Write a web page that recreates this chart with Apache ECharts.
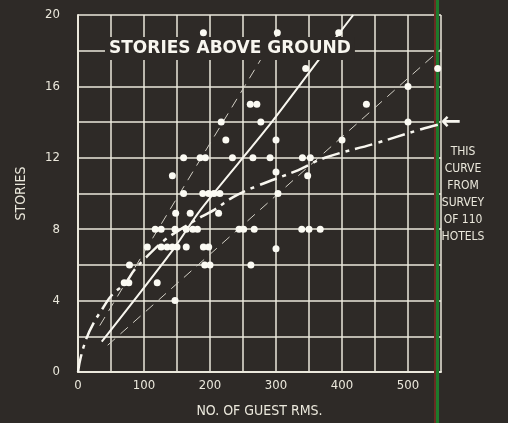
<!DOCTYPE html>
<html>
<head>
<meta charset="utf-8">
<script src="https://cdn.jsdelivr.net/npm/echarts@6/dist/echarts.min.js"></script>
<style>
  html, body { margin: 0; padding: 0; background: #2e2a27; }
  #chart { width: 508px; height: 423px; }
</style>
</head>
<body>
<div id="chart"></div>
<script>
// hotels: number of guest rooms vs stories above ground
const hotelRooms = [
  190, 302, 395,
  345, 545,
  500,
  261, 271, 437,
  217, 277, 500,
  224, 300, 400,
  160, 185, 193, 234, 265, 291, 340, 352,
  143, 300, 348,
  160, 189, 198, 206, 215, 303,
  148, 170, 213,
  117, 126, 147, 164, 174, 181, 244, 251, 267, 339, 350, 367,
  105, 126, 135, 143, 150, 164, 190, 198, 300,
  78, 192, 200, 262,
  70, 77, 120,
  147
]
const hotelStories = [
  19, 19, 19,
  17, 17,
  16,
  15, 15, 15,
  14, 14, 14,
  13, 13, 13,
  12, 12, 12, 12, 12, 12, 12, 12,
  11, 11.2, 11,
  10, 10, 10, 10, 10, 10,
  8.9, 8.9, 8.9,
  8, 8, 8, 8, 8, 8, 8, 8, 8, 8, 8, 8,
  7, 7, 7, 7, 7, 7, 7, 7, 6.9,
  6, 6, 6, 6,
  5, 5, 5,
  4
]

// survey curve (dash-dot)
const surveyRooms = [0, 4, 13, 23, 38, 51, 72, 85, 100, 130, 160, 187, 207, 235, 270, 333, 374, 450, 520, 550]
const surveyStories = [0, 0.8, 1.9, 2.7, 3.6, 4.3, 5.0, 5.7, 6.3, 7.35, 8.1, 8.7, 9.1, 9.8, 10.4, 11.3, 12.0, 12.8, 13.6, 13.9]

// solid curve
const solidRooms = [36, 143, 186, 285, 365, 417]
const solidStories = [1.7, 6.8, 9.1, 13.6, 17.5, 20]

// thin dashed limit lines
const lowerRooms = [45, 550]
const lowerStories = [1.5, 18.1]
const upperRooms = [33, 285]
const upperStories = [2.6, 18]

const noteLines = ['THIS', 'CURVE', 'FROM', 'SURVEY', 'OF 110', 'HOTELS']

const ink = '#ebe8dc'
const bg = '#2e2a27'
const narrow = "'Liberation Sans Narrow', 'DejaVu Sans Condensed', sans-serif"

const pairs = (xs, ys) => xs.map((x, i) => [x, ys[i]])

const chart = echarts.init(document.getElementById('chart'))

chart.setOption({
  backgroundColor: bg,
  animation: false,
  title: {
    text: 'STORIES ABOVE GROUND',
    left: 105,
    top: 37,
    backgroundColor: bg,
    padding: [3, 4],
    textStyle: {
      color: '#f8f6ef',
      fontFamily: "'DejaVu Sans', sans-serif",
      fontWeight: 'bold',
      fontSize: 17
    }
  },
  grid: { left: 78, right: 67, top: 15, bottom: 48 },
  xAxis: {
    type: 'value',
    min: 0,
    max: 550,
    interval: 50,
    name: 'NO. OF GUEST RMS.',
    nameLocation: 'middle',
    nameGap: 32,
    nameTextStyle: { color: ink, fontFamily: narrow, fontSize: 14 },
    axisLine: { show: true, lineStyle: { color: ink, width: 2 } },
    axisTick: { show: false },
    axisLabel: {
      color: ink,
      fontFamily: narrow,
      fontSize: 13,
      margin: 7,
      formatter: v => (v % 100 === 0 && v <= 500 ? String(v) : '')
    },
    splitLine: { show: true, lineStyle: { color: ink, width: 1.5 } }
  },
  yAxis: {
    type: 'value',
    min: 0,
    max: 20,
    interval: 2,
    name: 'STORIES',
    nameLocation: 'middle',
    nameGap: 50,
    nameRotate: 90,
    nameTextStyle: { color: ink, fontFamily: narrow, fontSize: 14 },
    axisLine: { show: true, lineStyle: { color: ink, width: 2 } },
    axisTick: { show: false },
    axisLabel: {
      color: ink,
      fontFamily: narrow,
      fontSize: 13,
      margin: 18,
      formatter: v => (v % 4 === 0 ? String(v) : '')
    },
    splitLine: { show: true, lineStyle: { color: ink, width: 1.5 } }
  },
  series: [
    {
      type: 'line',
      data: pairs(lowerRooms, lowerStories),
      symbol: 'none',
      z: 3,
      lineStyle: { color: '#d2cfc5', width: 1, type: [10, 7] }
    },
    {
      type: 'line',
      data: pairs(upperRooms, upperStories),
      symbol: 'none',
      z: 3,
      lineStyle: { color: '#d2cfc5', width: 1, type: [10, 7] }
    },
    {
      type: 'line',
      data: pairs(solidRooms, solidStories),
      symbol: 'none',
      smooth: 0.3,
      z: 4,
      lineStyle: { color: '#f8f6ef', width: 2 }
    },
    {
      type: 'line',
      data: pairs(surveyRooms, surveyStories),
      symbol: 'none',
      smooth: 0.4,
      z: 4,
      lineStyle: { color: '#f8f6ef', width: 2.5, type: [18, 6, 4, 6] }
    },
    {
      type: 'scatter',
      data: pairs(hotelRooms, hotelStories),
      symbol: 'circle',
      symbolSize: 7,
      z: 5,
      itemStyle: { color: '#fbfaf3', opacity: 1 }
    }
  ],
  graphic: [
    { type: 'rect', z: 1, shape: { x: 434, y: 0, width: 2, height: 423 }, style: { fill: '#6a2b24' } },
    { type: 'rect', z: 1, shape: { x: 436, y: 0, width: 3, height: 423 }, style: { fill: '#1d7a2c' } },
    {
      type: 'text',
      x: 441,
      y: 111,
      style: {
        text: '\u2190',
        fill: '#f8f6ef',
        font: "bold 24px 'DejaVu Sans', sans-serif"
      }
    },
    {
      type: 'text',
      x: 463,
      y: 143,
      style: {
        text: noteLines.join('\n'),
        fill: ink,
        align: 'center',
        lineHeight: 17,
        font: "12px " + narrow
      }
    }
  ]
})
</script>
</body>
</html>
